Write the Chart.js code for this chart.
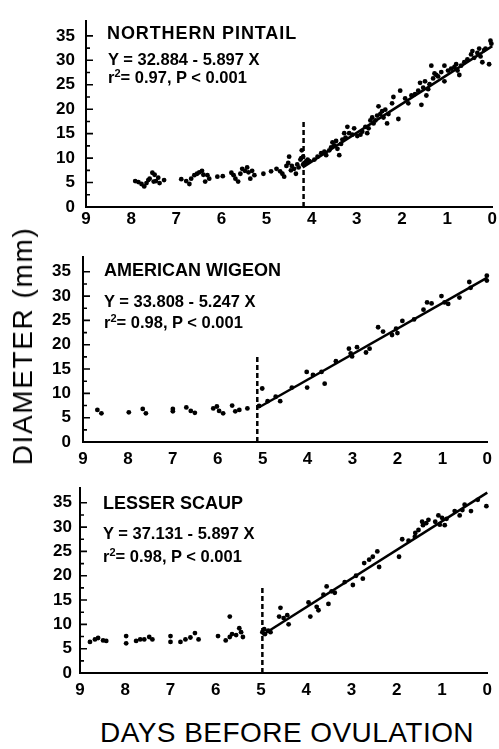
<!DOCTYPE html>
<html>
<head>
<meta charset="utf-8">
<script src="https://cdn.jsdelivr.net/npm/chart.js@4.4.1/dist/chart.umd.min.js"></script>
<style>
  html, body { margin: 0; padding: 0; background: #fff; }
  #page { position: relative; width: 499px; height: 749px; overflow: hidden; background: #fff;
          font-family: "Liberation Sans", Arial, sans-serif; color: #000; }
  canvas { position: absolute; left: 0; }
  .lbl { position: absolute; white-space: nowrap; line-height: 1; }
  .sp { font-size: 18px; font-weight: bold; }
  .eq { font-size: 16.5px; font-weight: bold; }
  .eq sup { font-size: 11px; vertical-align: 0; position: relative; top: -6px; }
  .axt { font-size: 28px; }
</style>
</head>
<body>
<div id="page">
  <canvas id="c1" width="499" height="235" style="top:0px"></canvas>
  <canvas id="c2" width="499" height="235" style="top:235px"></canvas>
  <canvas id="c3" width="499" height="235" style="top:470px"></canvas>

  <div class="lbl sp" style="left:107px; top:23.7px; letter-spacing:0.9px">NORTHERN PINTAIL</div>
  <div class="lbl eq" style="left:108px; top:50.9px">Y = 32.884 - 5.897 X</div>
  <div class="lbl eq" style="left:108px; top:68.9px">r<sup>2</sup>= 0.97, P &lt; 0.001</div>

  <div class="lbl sp" style="left:104px; top:261.4px">AMERICAN WIGEON</div>
  <div class="lbl eq" style="left:104px; top:292.9px">Y = 33.808 - 5.247 X</div>
  <div class="lbl eq" style="left:104px; top:313.9px">r<sup>2</sup>= 0.98, P &lt; 0.001</div>

  <div class="lbl sp" style="left:103px; top:494.4px">LESSER SCAUP</div>
  <div class="lbl eq" style="left:103px; top:524.6px">Y = 37.131 - 5.897 X</div>
  <div class="lbl eq" style="left:103px; top:547.9px">r<sup>2</sup>= 0.98, P &lt; 0.001</div>

  <div class="lbl axt" style="left:23px; top:346px; letter-spacing:1.6px; transform:translate(-50%,-50%) rotate(-90deg)">DIAMETER (mm)</div>
  <div class="lbl axt" style="left:100px; top:719.4px; letter-spacing:0.45px">DAYS BEFORE OVULATION</div>
</div>

<script>
// axis ticks
const dayTicks = [9, 8, 7, 6, 5, 4, 3, 2, 1, 0];
const diamTicks = [0, 5, 10, 15, 20, 25, 30, 35];
const diamMinorTicks = [2.5, 7.5, 12.5, 17.5, 22.5, 27.5, 32.5];

// Northern pintail
const pintailDays = [
  7.91, 7.84, 7.77, 7.71, 7.66, 7.62, 7.59, 7.53, 7.50, 7.48, 7.45, 7.40, 7.37, 7.27,
  6.89, 6.78, 6.71, 6.67, 6.60, 6.54, 6.49, 6.43, 6.40, 6.36, 6.31, 6.27, 6.09, 5.97,
  5.78, 5.73, 5.69, 5.63, 5.58, 5.54, 5.48, 5.43, 5.40, 5.36, 5.32, 5.27, 5.07, 4.90,
  4.78, 4.70, 4.65, 4.61, 4.56, 4.52, 4.50, 4.46, 4.44, 4.39, 4.35, 4.32, 4.29, 4.25,
  4.22, 4.19, 4.16, 4.12, 4.09,
  4.23, 4.19, 4.12, 4.05, 3.94, 3.87, 3.79, 3.72, 3.68, 3.61, 3.57, 3.54, 3.50, 3.46,
  3.43, 3.39, 3.35, 3.32, 3.28, 3.25, 3.21, 3.17, 3.10, 3.06, 2.99, 2.92, 2.88, 2.81,
  2.77, 2.74, 2.70, 2.66, 2.63, 2.59, 2.55, 2.52, 2.48, 2.44, 2.41, 2.37, 2.33, 2.30,
  2.22, 2.19, 2.08, 2.04, 1.93, 1.86, 1.79, 1.71, 1.64, 1.60, 1.57, 1.53, 1.49, 1.46,
  1.42, 1.39, 1.35, 1.31, 1.28, 1.24, 1.20, 1.13, 1.06, 1.06, 0.98, 0.91, 0.84, 0.80,
  0.77, 0.73, 0.69, 0.62, 0.55, 0.47, 0.44, 0.40, 0.33, 0.29, 0.26, 0.22, 0.18, 0.15,
  0.07, 0.04, 0.02
];
const pintailDiam = [
  5.3, 5.1, 4.7, 4.2, 4.9, 5.5, 5.8, 7.0, 5.2, 6.6, 5.3, 6.0, 4.9, 5.5,
  5.7, 5.3, 4.7, 5.8, 6.5, 6.8, 7.1, 7.4, 6.6, 5.2, 6.5, 5.8, 6.2, 6.3,
  7.0, 6.5, 5.8, 5.2, 6.8, 7.8, 7.4, 8.1, 7.1, 5.8, 7.4, 6.5, 6.8, 7.3,
  7.8, 7.3, 6.8, 6.2, 8.4, 9.0, 10.3, 7.5, 8.4, 7.8, 6.8, 8.7, 8.1, 9.7,
  11.6, 10.3, 9.0, 9.4, 9.7,
  10.0, 8.7, 9.0, 9.4, 9.7, 10.3, 11.0, 11.3, 10.6, 11.6, 12.2, 13.2, 12.6, 13.5,
  11.9, 10.6, 12.9, 13.8, 15.1, 14.2, 16.4, 15.1, 14.8, 16.1, 14.5, 14.8, 15.4, 16.4,
  15.1, 16.1, 17.7, 18.3, 17.1, 17.7, 18.7, 20.6, 19.0, 19.6, 18.3, 19.9, 17.1, 19.0,
  21.2, 22.5, 18.0, 23.8, 22.2, 21.2, 22.8, 23.1, 23.8, 25.4, 20.9, 24.4, 25.7, 22.8,
  24.1, 25.1, 28.9, 26.3, 27.3, 27.0, 26.7, 27.6, 28.9, 25.7, 27.9, 28.3, 28.6, 29.2,
  27.9, 27.0, 28.9, 29.6, 30.2, 31.2, 31.9, 30.5, 31.5, 32.4, 30.8, 29.6, 32.1, 32.4,
  29.2, 34.0, 33.4
];
const pintailFitDays = [4.20, 0];
const pintailFitDiam = [8.1, 32.9];
const pintailBreakDays = [4.18, 4.18];
const pintailBreakDiam = [0, 17.7];

// American wigeon
const wigeonDays = [
  8.68, 8.59, 7.98, 7.67, 7.60, 7.00, 7.00, 6.70, 6.60, 6.51, 6.10, 6.02, 5.97, 5.88,
  5.68, 5.61, 5.52, 5.34, 5.08, 5.01, 4.89, 4.71, 4.61, 4.35, 4.02, 4.01, 3.88, 3.69,
  3.62, 3.37, 3.08, 3.04, 3.01, 2.90, 2.70, 2.62, 2.43, 2.32, 2.12, 2.03, 2.00, 1.89,
  1.63, 1.42, 1.34, 1.24, 1.02, 0.95, 0.87, 0.62, 0.40, 0.37, 0.01, 0.01
];
const wigeonDiam = [
  6.6, 5.9, 6.1, 6.8, 5.9, 6.8, 6.3, 7.1, 6.4, 6.0, 6.9, 7.3, 6.4, 5.9,
  7.5, 6.3, 6.6, 6.9, 7.4, 11.0, 8.4, 9.3, 8.4, 11.2, 14.4, 11.2, 13.8, 14.4,
  12.0, 16.6, 19.2, 18.2, 17.6, 19.5, 18.4, 19.2, 23.6, 22.7, 22.0, 23.3, 22.4, 24.9,
  25.2, 27.2, 28.7, 28.5, 30.0, 28.7, 28.4, 29.7, 32.9, 31.7, 34.2, 33.2
];
const wigeonFitDays = [5.08, 0];
const wigeonFitDiam = [7.15, 33.8];
const wigeonBreakDays = [5.12, 5.12];
const wigeonBreakDiam = [0, 17.6];

// Lesser scaup
const scaupDays = [
  8.78, 8.67, 8.60, 8.49, 8.42, 7.98, 7.98, 7.76, 7.67, 7.58, 7.47, 7.40, 7.00, 7.00,
  6.78, 6.67, 6.56, 6.46, 6.38, 5.95, 5.78, 5.69, 5.64, 5.55, 5.48, 5.44, 5.40, 5.69,
  4.97, 4.93, 4.91, 4.84, 4.79, 4.57, 4.60, 4.50, 4.42, 4.39, 3.95, 3.91, 3.77, 3.73,
  3.62, 3.55, 3.51, 3.44, 3.37, 3.15, 2.97, 2.90, 2.75, 2.72, 2.61, 2.53, 2.43, 2.39,
  1.95, 1.88, 1.74, 1.60, 1.59, 1.52, 1.44, 1.42, 1.35, 1.30, 1.15, 1.08, 1.05, 1.00,
  0.94, 0.90, 0.72, 0.61, 0.55, 0.50, 0.36, 0.21, 0.02
];
const scaupDiam = [
  6.4, 6.9, 7.2, 6.7, 6.6, 7.6, 6.1, 6.6, 6.9, 6.9, 7.4, 6.9, 7.6, 6.4,
  6.4, 6.9, 7.3, 8.2, 6.9, 7.6, 6.7, 7.4, 8.0, 7.8, 9.2, 8.4, 7.4, 11.6,
  8.4, 9.0, 8.0, 8.7, 8.4, 13.4, 11.6, 11.3, 11.9, 10.0, 14.5, 11.6, 13.6, 12.9,
  16.1, 17.8, 14.2, 16.8, 16.5, 18.7, 18.1, 20.0, 19.4, 22.6, 23.3, 23.9, 25.0, 21.8,
  23.9, 27.5, 27.2, 28.0, 28.8, 29.4, 31.1, 30.4, 30.8, 31.5, 31.1, 32.4, 30.5, 31.9,
  30.4, 31.7, 33.3, 32.4, 33.5, 34.6, 33.3, 35.6, 34.3
];
const scaupFitDays = [4.97, 0];
const scaupFitDiam = [7.8, 37.1];
const scaupBreakDays = [4.97, 4.97];
const scaupBreakDiam = [0, 17.8];

const FONT = "'Liberation Sans', Arial, sans-serif";

function pairs(xs, ys) {
  return xs.map((x, i) => ({ x: x, y: ys[i] }));
}

// inward ticks on the y axis, placed with the scale's own pixel positions
const innerTicks = {
  id: "innerTicks",
  afterDatasetsDraw(chart) {
    const ctx = chart.ctx;
    const y = chart.scales.y;
    const left = y.right;
    ctx.save();
    ctx.strokeStyle = "#000";
    ctx.lineWidth = 1.6;
    ctx.beginPath();
    diamTicks.forEach((v) => {
      const p = y.getPixelForValue(v);
      ctx.moveTo(left, p);
      ctx.lineTo(left + 7, p);
    });
    diamMinorTicks.forEach((v) => {
      const p = y.getPixelForValue(v);
      ctx.moveTo(left, p);
      ctx.lineTo(left + 4, p);
    });
    ctx.stroke();
    ctx.restore();
  },
};

function makePanel(id, p) {
  const canvas = document.getElementById(id);
  const h = canvas.height;
  const axisGrid = {
    display: true,
    drawOnChartArea: false,
    drawTicks: false,
    color: "#000",
  };
  new Chart(canvas, {
    type: "scatter",
    data: {
      datasets: [
        {
          data: pairs(p.days, p.diam),
          pointRadius: 2.4,
          pointBackgroundColor: "#000",
          pointBorderWidth: 0,
          clip: 5,
        },
        {
          data: pairs(p.fitDays, p.fitDiam),
          showLine: true,
          borderColor: "#000",
          borderWidth: 2.5,
          pointRadius: 0,
          clip: 5,
        },
        {
          data: pairs(p.breakDays, p.breakDiam),
          showLine: true,
          borderColor: "#000",
          borderWidth: 2.5,
          borderDash: [5, 3],
          pointRadius: 0,
          clip: 5,
        },
      ],
    },
    options: {
      responsive: false,
      animation: false,
      events: [],
      layout: {
        autoPadding: false,
        padding: { top: p.top, right: 499 - p.right, left: 0, bottom: 0 },
      },
      plugins: {
        legend: { display: false },
        tooltip: { enabled: false },
      },
      scales: {
        x: {
          type: "linear",
          min: 0,
          max: 9,
          reverse: true,
          afterFit: function (s) {
            s.height = h - p.bottom;
          },
          afterBuildTicks: function (s) {
            s.ticks = dayTicks.map((v) => ({ value: v }));
          },
          grid: axisGrid,
          border: { display: true, color: "#000", width: 2 },
          ticks: {
            autoSkip: false,
            maxRotation: 0,
            padding: p.xPad,
            color: "#000",
            font: { family: FONT, size: 17, weight: "bold" },
          },
        },
        y: {
          type: "linear",
          min: 0,
          max: 38,
          afterFit: function (s) {
            s.width = p.left;
          },
          afterBuildTicks: function (s) {
            s.ticks = diamTicks.map((v) => ({ value: v }));
          },
          grid: axisGrid,
          border: { display: true, color: "#000", width: 2 },
          ticks: {
            padding: p.yPad,
            color: "#000",
            font: { family: FONT, size: 17, weight: "bold" },
          },
        },
      },
    },
    plugins: [innerTicks],
  });
}

makePanel("c1", {
  days: pintailDays, diam: pintailDiam,
  fitDays: pintailFitDays, fitDiam: pintailFitDiam,
  breakDays: pintailBreakDays, breakDiam: pintailBreakDiam,
  top: 9.4, bottom: 207, left: 86, right: 495, xPad: 2, yPad: 11,
});
makePanel("c2", {
  days: wigeonDays, diam: wigeonDiam,
  fitDays: wigeonFitDays, fitDiam: wigeonFitDiam,
  breakDays: wigeonBreakDays, breakDiam: wigeonBreakDiam,
  top: 8.3, bottom: 207, left: 83, right: 497, xPad: 7, yPad: 12,
});
makePanel("c3", {
  days: scaupDays, diam: scaupDiam,
  fitDays: scaupFitDays, fitDiam: scaupFitDiam,
  breakDays: scaupBreakDays, breakDiam: scaupBreakDiam,
  top: 7.7, bottom: 203, left: 80, right: 493, xPad: 7, yPad: 8,
});
</script>
</body>
</html>
